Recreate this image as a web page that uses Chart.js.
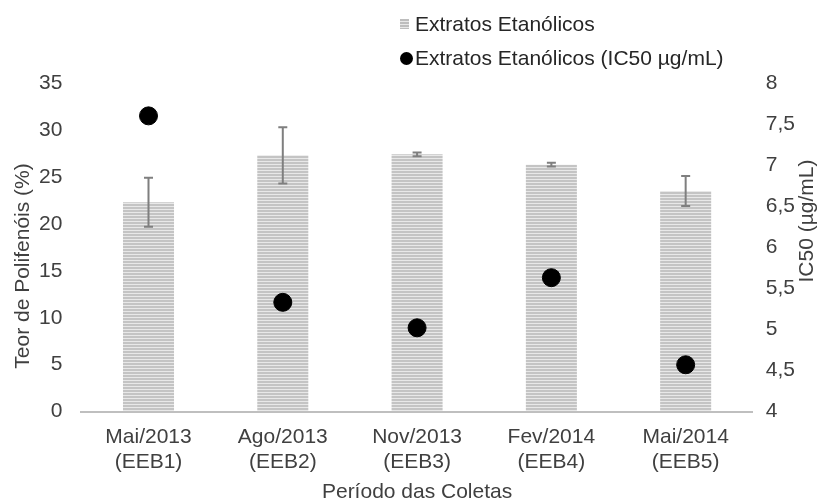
<!DOCTYPE html>
<html>
<head>
<meta charset="utf-8">
<script src="https://cdn.jsdelivr.net/npm/chart.js@4.4.1/dist/chart.umd.min.js"></script>
<style>
  body { margin: 0; background: #fff; font-family: "Liberation Sans", Arial, sans-serif; }
  #wrap { position: relative; width: 819px; height: 502px; }
  #legend { position: absolute; left: 400px; top: 7px; font-size: 21px; color: #262626; }
  .item { display: flex; align-items: center; height: 34px; }
  .sw-bar { width: 9px; height: 10px; margin-right: 6px;
    background: repeating-linear-gradient(to bottom, #bdbdbd 0 2px, #e8e8e8 2px 3px); }
  .sw-dot { width: 13px; height: 13px; border-radius: 50%; background: #000; margin-right: 2px; }
</style>
</head>
<body>
<div id="wrap">
  <canvas id="chart" width="819" height="502"></canvas>
  <div id="legend">
    <div class="item"><span class="sw-bar"></span>Extratos Etanólicos</div>
    <div class="item"><span class="sw-dot"></span>Extratos Etanólicos (IC50 µg/mL)</div>
  </div>
</div>
<script>
// =================== DATA ===================
const periods = [["Mai/2013","(EEB1)"],["Ago/2013","(EEB2)"],["Nov/2013","(EEB3)"],["Fev/2014","(EEB4)"],["Mai/2014","(EEB5)"]];
const polifenois = [22.3, 27.3, 27.4, 26.3, 23.5];
const polifenoisErr = [2.6, 3.0, 0.2, 0.2, 1.6];
const ic50 = [7.6, 5.33, 5.02, 5.63, 4.57];

const FONT = '"Liberation Sans", Arial, sans-serif';
const TXT = "#404040";

// striped bar fill
function stripes() {
  const c = document.createElement("canvas");
  c.width = 4; c.height = 3;
  const g = c.getContext("2d");
  g.fillStyle = "#e8e8e8"; g.fillRect(0, 0, 4, 3);
  g.fillStyle = "#c4c4c4"; g.fillRect(0, 0, 4, 2);
  return g.createPattern(c, "repeat");
}

// error bars on the bar dataset
const errorBars = {
  id: "errorBars",
  afterDatasetsDraw(chart) {
    const meta = chart.getDatasetMeta(0);
    const y = chart.scales.y;
    const ctx = chart.ctx;
    ctx.save();
    ctx.strokeStyle = "#7f7f7f";
    ctx.lineWidth = 2;
    meta.data.forEach((bar, i) => {
      const hi = y.getPixelForValue(polifenois[i] + polifenoisErr[i]);
      const lo = y.getPixelForValue(polifenois[i] - polifenoisErr[i]);
      ctx.beginPath();
      ctx.moveTo(bar.x, hi); ctx.lineTo(bar.x, lo);
      ctx.moveTo(bar.x - 4.5, hi); ctx.lineTo(bar.x + 4.5, hi);
      ctx.moveTo(bar.x - 4.5, lo); ctx.lineTo(bar.x + 4.5, lo);
      ctx.stroke();
    });
    ctx.restore();
  }
};

// axis titles (vertical ones read bottom to top)
const axisTitles = {
  id: "axisTitles",
  afterDraw(chart) {
    const ctx = chart.ctx;
    ctx.save();
    ctx.font = "21px " + FONT;
    ctx.fillStyle = TXT;
    ctx.textAlign = "center";
    ctx.textBaseline = "middle";
    const a = chart.chartArea;
    ctx.fillText("Período das Coletas", (a.left + a.right) / 2, 492);
    [["Teor de Polifenóis (%)", 23, 266], ["IC50 (µg/mL)", 807, 221]].forEach(([t, x, y]) => {
      ctx.save();
      ctx.translate(x, y);
      ctx.rotate(-Math.PI / 2);
      ctx.fillText(t, 0, 0);
      ctx.restore();
    });
    ctx.restore();
  }
};

Chart.defaults.font.family = FONT;
Chart.defaults.font.size = 21;
Chart.defaults.color = TXT;

new Chart(document.getElementById("chart"), {
  type: "bar",
  data: {
    labels: periods,
    datasets: [{
      label: "Extratos Etanólicos",
      data: polifenois,
      backgroundColor: stripes(),
      yAxisID: "y",
      categoryPercentage: 1,
      barPercentage: 0.38,
      order: 1
    }, {
      type: "line",
      label: "Extratos Etanólicos (IC50 µg/mL)",
      data: ic50,
      yAxisID: "y1",
      showLine: false,
      pointRadius: 9,
      pointBackgroundColor: "#000",
      pointBorderColor: "#000",
      order: 0
    }]
  },
  options: {
    responsive: false,
    animation: false,
    layout: { padding: { top: 83, left: 28, right: 19, bottom: 22 } },
    plugins: { legend: { display: false }, tooltip: { enabled: false } },
    scales: {
      x: {
        grid: { display: false },
        border: { color: "#bfbfbf", width: 2 },
        ticks: { padding: 5, color: TXT }
      },
      y: {
        position: "left",
        min: 0, max: 35,
        ticks: { stepSize: 5, padding: 11, color: TXT },
        grid: { display: false },
        border: { display: false }
      },
      y1: {
        position: "right",
        min: 4, max: 8,
        ticks: { stepSize: 0.5, padding: 5, color: TXT,
          callback: v => String(v).replace(".", ",") },
        grid: { display: false },
        border: { display: false }
      }
    }
  },
  plugins: [errorBars, axisTitles]
});
</script>
</body>
</html>
